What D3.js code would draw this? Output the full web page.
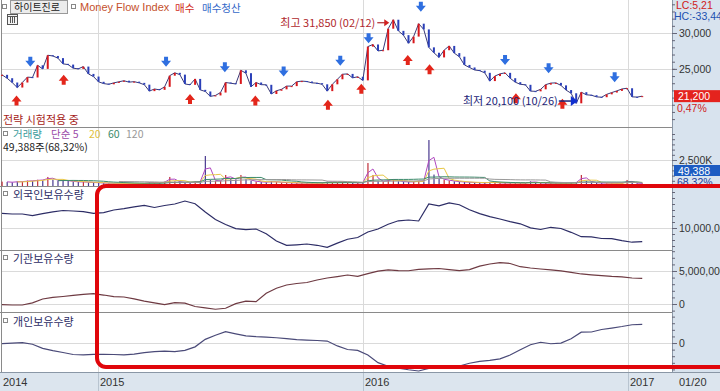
<!DOCTYPE html>
<html>
<head>
<meta charset="utf-8">
<script src="https://cdn.jsdelivr.net/npm/d3@7"></script>
<style>
body { margin: 0; background: #fff; }
svg { display: block; }
text { font-family: "Noto Sans CJK KR", sans-serif; }
.num { font-family: "Liberation Sans", Arial, sans-serif; }
</style>
</head>
<body>
<svg width="720" height="391"></svg>
<script>
// weekly closes (won), first week ending 2014-08-22, last 2017-01-20
const firstWeek = new Date(2014, 7, 22);
const closes = [
  24170, 23700, 23100, 22400, 23100, 23850, 23800, 25500, 25000, 26900,
  26800, 26500, 25700, 25600, 25100, 25000, 25320, 24300, 23930, 23200,
  22950, 22850, 23050, 23200, 23350, 23150, 23220, 23050, 22800, 21900,
  22200, 22080, 22500, 24050, 24450, 24200, 22900, 22780, 23600, 22080,
  21850, 21170, 21300, 21700, 23100, 23000, 22900, 24800, 24400, 22500,
  23100, 22800, 22780, 21500, 21950, 22150, 22600, 22600, 23200, 23300,
  23240, 23050, 23010, 22850, 21900, 22850, 23550, 24250, 24300, 23750,
  23900, 23400, 28100, 28400, 27500, 27600, 30600, 31850, 30300, 29700,
  28570, 29500, 31300, 30500, 28000, 27250, 26600, 27600, 28200, 27200,
  26700, 25550, 25200, 24850, 24750, 24450, 23300, 24000, 24300, 24450,
  23700, 23150, 22850, 22780, 21900, 21870, 22150, 22800, 23020, 23050,
  22700, 22050, 21600, 20200, 21750, 21390, 21330, 21100, 21050, 21450,
  21700, 21930, 22200, 22300, 21100, 21070, 21200
];

// weekly volume, thousand shares
const volumes = [
  420, 380, 350, 450, 400, 520, 480, 600, 550, 870,
  620, 500, 560, 480, 420, 380, 400, 350, 330, 300,
  280, 260, 250, 240, 270, 250, 240, 230, 260, 350,
  280, 300, 420, 870, 450, 380, 320, 350, 420, 380,
  2885, 600, 480, 520, 1060, 700, 620, 1060, 650, 500,
  420, 380, 360, 450, 380, 340, 320, 300, 290, 280,
  270, 260, 270, 280, 420, 350, 380, 400, 350, 320,
  300, 330, 2210, 1060, 500, 420, 600, 650, 450, 400,
  380, 420, 500, 450, 4420, 1100, 700, 600, 520, 450,
  400, 380, 350, 330, 320, 300, 380, 320, 300, 280,
  300, 290, 280, 270, 450, 320, 300, 290, 280, 270,
  260, 280, 300, 350, 1060, 500, 350, 300, 280, 270,
  260, 250, 260, 580, 300, 260, 250
];

// holdings, million shares, every two weeks from 2014-08-22
const foreignHold = [
  12.43, 12.33, 12.33, 12.08, 12.40, 12.70, 12.92, 12.83, 12.72, 12.45,
  12.57, 13.00, 13.22, 13.53, 13.77, 13.42, 13.75, 14.00, 14.50, 14.05,
  12.67, 11.40, 10.58, 9.90, 9.73, 9.83, 9.05, 7.83, 7.10, 7.20,
  7.33, 7.12, 6.77, 7.48, 8.12, 8.42, 9.33, 9.83, 10.63, 11.20,
  11.33, 11.17, 14.00, 13.70, 14.20, 13.87, 13.05, 12.40, 11.90, 11.50,
  11.05, 10.70, 10.03, 9.75, 10.12, 9.92, 9.28, 8.55, 8.52, 8.25,
  8.23, 7.90, 7.63, 7.72
];
const instHold = [
  -0.08, -0.15, -0.15, 0.17, 0.76, 1.00, 1.14, 1.30, 1.47, 1.56,
  1.36, 1.12, 1.06, 0.79, 0.45, 0.17, -0.09, 0.20, 0.12, -0.38,
  -0.58, -0.79, -0.64, 0.05, 0.44, 0.36, 1.62, 2.39, 2.88, 3.11,
  3.26, 3.64, 3.94, 4.15, 4.39, 4.18, 4.59, 4.97, 5.18, 5.06,
  5.04, 5.24, 5.33, 5.38, 5.21, 5.06, 5.20, 5.73, 6.06, 6.27,
  6.14, 5.65, 5.45, 5.30, 5.18, 5.01, 4.79, 4.55, 4.41, 4.30,
  4.18, 4.11, 3.94, 3.89
];
const indivHold = [
  -0.09, 0.00, 0.06, -0.18, -0.80, -1.14, -1.44, -1.74, -1.79, -1.71,
  -1.71, -1.74, -1.80, -1.67, -1.45, -1.30, -1.24, -1.30, -1.11, -0.58,
  0.56, 1.18, 1.71, 1.39, 1.09, 0.97, 0.89, 0.80, 0.67, 0.53,
  0.45, 0.38, 0.30, -0.44, -0.98, -1.11, -1.82, -2.97, -3.52, -3.79,
  -4.05, -4.24, -3.85, -3.70, -3.59, -3.48, -3.06, -2.77, -2.64, -2.39,
  -1.82, -1.02, -0.26, 0.12, -0.11, -0.02, 0.64, 1.64, 1.67, 2.05,
  2.27, 2.50, 2.77, 2.83
];

// Money Flow Index signals: [date, price level of arrow]
const sellSignals = [
  ["2014-09-30", 26010], ["2015-04-05", 26010], ["2015-06-25", 25240],
  ["2015-09-14", 24620], ["2015-12-01", 26150], ["2016-01-09", 29260],
  ["2016-03-21", 33650], ["2016-07-15", 26250], ["2016-09-13", 25100],
  ["2016-12-13", 23850]
];
const buySignals = [
  ["2014-09-11", 20600], ["2014-11-15", 23470], ["2015-05-08", 20790],
  ["2015-08-06", 20600], ["2015-11-14", 20000], ["2015-12-30", 22220],
  ["2016-03-03", 26250], ["2016-04-02", 24960], ["2016-07-30", 20900],
  ["2016-10-02", 20140]
];

const yearTicks = ["2015-01-01", "2016-01-01", "2017-01-01"];
const hi = { date: "2016-02-12", value: 31850 };
const lo = { date: "2016-10-26", value: 20100 };

const parse = d3.timeParse("%Y-%m-%d");
const svg = d3.select("svg");
const left = 2, right = 672;

const x = d3.scaleTime()
  .domain([new Date(2014, 7, 22), new Date(2017, 2, 2)])
  .range([left, right]);

const yPrice = d3.scaleLinear().domain([16900, 34600]).range([127, 0]);
const yVol = d3.scaleLinear().domain([0, 2500]).range([186, 160]);
const yFor = d3.scaleLinear().domain([6.5, 17]).range([249, 186]);
const yInst = d3.scaleLinear().domain([-1.21, 8.18]).range([312, 250]);
const yInd = d3.scaleLinear().domain([-4.39, 4.55]).range([372, 313]);

const weeks = closes.map((c, i) => d3.timeDay.offset(firstWeek, i * 7));
const fortnights = foreignHold.map((v, i) => d3.timeDay.offset(firstWeek, i * 14));

// grid
const grid = svg.append("g").attr("stroke", "#dadada").attr("stroke-width", 1);
[[yPrice, [30000, 25000, 20000]], [yVol, [2500]], [yFor, [10]], [yInst, [5, 0]], [yInd, [0]]]
  .forEach(([s, vals]) => vals.forEach(v => {
    grid.append("line").attr("x1", left).attr("x2", right)
      .attr("y1", Math.round(s(v)) + 0.5).attr("y2", Math.round(s(v)) + 0.5);
  }));
yearTicks.forEach(d => {
  const xx = Math.round(x(parse(d))) + 0.5;
  grid.append("line").attr("x1", xx).attr("x2", xx).attr("y1", 0).attr("y2", 372);
});

// panel separators
const sep = svg.append("g").attr("stroke", "#8a8a8a");
[127, 186, 250, 312, 372].forEach(y => {
  sep.append("line").attr("x1", 0).attr("x2", right).attr("y1", y + 0.5).attr("y2", y + 0.5);
});
sep.append("line").attr("x1", 1.5).attr("x2", 1.5).attr("y1", 0).attr("y2", 372);

// candles: open = previous close
const candles = closes.map((c, i) => ({ date: weeks[i], open: i ? closes[i - 1] : c, close: c, vol: volumes[i] }));
const upC = "#d8171b", dnC = "#2a3fb8";
svg.append("path").datum(candles)
  .attr("fill", "none").attr("stroke", "#3a3a78").attr("stroke-width", 1)
  .attr("d", d3.line().x(d => x(d.date)).y(d => yPrice(d.close)));
svg.append("g").selectAll("rect").data(candles).join("rect")
  .attr("x", d => x(d.date) - 1)
  .attr("width", 2)
  .attr("y", d => yPrice(Math.max(d.open, d.close)))
  .attr("height", d => Math.max(1, Math.abs(yPrice(d.open) - yPrice(d.close))))
  .attr("fill", d => d.close >= d.open ? upC : dnC);

// volume bars
svg.append("g").selectAll("rect").data(candles).join("rect")
  .attr("x", d => x(d.date) - 0.5)
  .attr("width", 1.2)
  .attr("y", d => yVol(d.vol))
  .attr("height", d => yVol(0) - yVol(d.vol))
  .attr("fill", d => d.close >= d.open ? "#c0303a" : "#4a3a90");

// volume moving averages
const maCols = [[2, "#b048c0"], [4, "#e8c848"], [12, "#3a8a6a"], [24, "#999"]];
maCols.forEach(([n, col]) => {
  const ma = volumes.map((v, i) => i < n - 1 ? null : d3.mean(volumes.slice(i - n + 1, i + 1)));
  svg.append("path")
    .datum(ma.map((m, i) => [weeks[i], m]).filter(d => d[1] != null))
    .attr("fill", "none").attr("stroke", col).attr("stroke-width", 1)
    .attr("d", d3.line().x(d => x(d[0])).y(d => yVol(d[1])));
});

// holding lines
[[foreignHold, yFor, "#2d2d66"], [instHold, yInst, "#6e3a42"], [indivHold, yInd, "#4a4a78"]]
  .forEach(([vals, s, col]) => {
    svg.append("path")
      .datum(vals.map((v, i) => [fortnights[i], v]))
      .attr("fill", "none").attr("stroke", col).attr("stroke-width", 1.2)
      .attr("d", d3.line().x(d => x(d[0])).y(d => s(d[1])));
  });

// signal arrows
const arrow = (g, cx, cy, dir, col) => {
  const s = dir; // -1 up, 1 down
  g.append("path")
    .attr("d", `M${cx - 2},${cy - 5 * s} h4 v${4 * s} h3 l-5,${6 * s} l-5,${-6 * s} h3 z`)
    .attr("fill", col);
};
const sig = svg.append("g");
sellSignals.forEach(([d, p]) => arrow(sig, x(parse(d)), yPrice(p), 1, "#2f6fe0"));
buySignals.forEach(([d, p]) => arrow(sig, x(parse(d)), yPrice(p), -1, "#e3261b"));

// high / low notes
const hx = x(parse(hi.date)) - 4, hy = yPrice(hi.value) + 3;
svg.append("text").attr("x", hx - 14).attr("y", hy + 4).attr("text-anchor", "end")
  .attr("font-size", 11).attr("fill", "#b0282c").text(`최고 ${d3.format(",")(hi.value)} (02/12)`);
svg.append("line").attr("x1", hx - 12).attr("x2", hx - 4).attr("y1", hy).attr("y2", hy)
  .attr("stroke", "#b0282c").attr("stroke-width", 1.2);
svg.append("path").attr("d", `M${hx},${hy} l-5,-3.5 v7 z`).attr("fill", "#d02020");

const lx = x(parse(lo.date)) - 2, ly = yPrice(lo.value) - 3;
svg.append("text").attr("x", lx - 20).attr("y", ly + 4).attr("text-anchor", "end")
  .attr("font-size", 11).attr("fill", "#1c2478").text(`최저 ${d3.format(",")(lo.value)} (10/26)`);
svg.append("line").attr("x1", lx - 19).attr("x2", lx - 6).attr("y1", ly).attr("y2", ly)
  .attr("stroke", "#1c2478").attr("stroke-width", 1.5);
svg.append("path").attr("d", `M${lx},${ly} l-7,-5 v10 z`).attr("fill", "#1030d0");

// header texts
const box = (bx, by) => svg.append("rect").attr("x", bx + 0.5).attr("y", by + 0.5)
  .attr("width", 4).attr("height", 4).attr("fill", "#fff").attr("stroke", "#888");
box(2, 4);
svg.append("rect").attr("x", 10.5).attr("y", 0.5).attr("width", 57).attr("height", 13)
  .attr("fill", "#ececec").attr("stroke", "#999");
svg.append("text").attr("x", 14).attr("y", 11).attr("font-size", 10).attr("fill", "#222").text("하이트진로");
box(71, 4);
svg.append("text").attr("class", "num").attr("x", 80).attr("y", 11).attr("font-size", 11)
  .attr("fill", "#c4502c").text("Money Flow Index");
svg.append("text").attr("x", 175).attr("y", 11.5).attr("font-size", 10.5).attr("fill", "#d02a20").text("매수");
svg.append("text").attr("x", 202).attr("y", 11.5).attr("font-size", 10.5).attr("fill", "#3468c8").text("매수청산");

// small grid icon
const ic = svg.append("g").attr("stroke", "#555").attr("fill", "none");
ic.append("rect").attr("x", 7.5).attr("y", 14.5).attr("width", 10).attr("height", 10).attr("fill", "#f4f4f4");
[10.5, 12.5, 14.5].forEach(v => ic.append("line").attr("x1", v).attr("x2", v).attr("y1", 17).attr("y2", 23));
ic.append("line").attr("x1", 8).attr("x2", 17).attr("y1", 16.5).attr("y2", 16.5);

svg.append("text").attr("x", 3).attr("y", 124).attr("font-size", 11).attr("fill", "#a51c20").text("전략 시험적용 중");

box(3, 131);
[["거래량", 13, "#3a9c9c"], ["단순 5", 51, "#9a48a8"], ["20", 89, "#e0c040"], ["60", 108, "#3a8a6a"], ["120", 126, "#999"]]
  .forEach(([t, tx, col]) => {
    svg.append("text").attr("x", tx).attr("y", 138).attr("font-size", 10.5).attr("fill", col).text(t);
  });
svg.append("text").attr("x", 3).attr("y", 151).attr("font-size", 10.5).attr("fill", "#222").text("49,388주(68,32%)");

[["외국인보유수량", 199], ["기관보유수량", 263], ["개인보유수량", 326]].forEach(([t, y]) => {
  box(3, y - 8);
  svg.append("text").attr("x", 13).attr("y", y).attr("font-size", 11).attr("fill", "#2d2d66").text(t);
});

// right axis panel
svg.append("rect").attr("x", right).attr("y", 0).attr("width", 720 - right).attr("height", 391).attr("fill", "#d8e3ee");
svg.append("line").attr("x1", right + 0.5).attr("x2", right + 0.5).attr("y1", 0).attr("y2", 391).attr("stroke", "#8a97a6");

const axisAt = (s, major, minor, fmt) => {
  const gm = svg.append("g").attr("transform", `translate(${right},0)`)
    .call(d3.axisRight(s).tickValues(minor).tickSize(3).tickFormat(""));
  const g = svg.append("g").attr("transform", `translate(${right},0)`)
    .call(d3.axisRight(s).tickValues(major).tickSize(5).tickPadding(2).tickFormat(fmt));
  [gm, g].forEach(a => {
    a.select(".domain").remove();
    a.selectAll("line").attr("stroke", "#667");
    a.selectAll("text").attr("class", "num").attr("font-size", 10.5).attr("fill", "#333");
  });
};
const cf = d3.format(",");
axisAt(yPrice, [30000, 25000], d3.range(18000, 34001, 1000), cf);
axisAt(yVol, [2500], d3.range(0, 5001, 500), d => "2,500K");
axisAt(yFor, [10], d3.range(7, 17, 1), d => cf(d * 1e6));
axisAt(yInst, [5, 0], d3.range(-1, 9, 1), d => cf(d * 1e6));
axisAt(yInd, [0], d3.range(-4, 5, 1), d => cf(d * 1e6));

svg.append("text").attr("class", "num").attr("x", 676).attr("y", 9).attr("font-size", 10.5).attr("fill", "#d02020").text("LC:5,21");
svg.append("text").attr("class", "num").attr("x", 674).attr("y", 20).attr("font-size", 10.5).attr("fill", "#2050b0").text("HC:-33,44");

const last = closes[closes.length - 1];
svg.append("rect").attr("x", 674).attr("y", yPrice(last) - 6).attr("width", 46).attr("height", 12).attr("fill", "#e4231e");
svg.append("text").attr("class", "num").attr("x", 678).attr("y", yPrice(last) + 4).attr("font-size", 10.5).attr("fill", "#fff").text(cf(last));
svg.append("text").attr("class", "num").attr("x", 677).attr("y", yPrice(last) + 16).attr("font-size", 10.5).attr("fill", "#d02020").text("0,47%");

svg.append("rect").attr("x", 674).attr("y", 165).attr("width", 46).attr("height", 11).attr("fill", "#1d5cc2");
svg.append("text").attr("class", "num").attr("x", 678).attr("y", 174.5).attr("font-size", 10.5).attr("fill", "#fff").text("49,388");
svg.append("text").attr("class", "num").attr("x", 677).attr("y", 186).attr("font-size", 10.5).attr("fill", "#1d3c9c").text("68,32%");

// bottom date band
svg.append("rect").attr("x", 0).attr("y", 372.5).attr("width", 720).attr("height", 19).attr("fill", "#dce5ee");
svg.append("line").attr("x1", 0).attr("x2", 720).attr("y1", 372.5).attr("y2", 372.5).attr("stroke", "#8a97a6");
svg.append("text").attr("class", "num").attr("x", 3).attr("y", 386).attr("font-size", 11).attr("fill", "#333").text("2014");
yearTicks.forEach(d => {
  const dt = parse(d), xx = Math.round(x(dt));
  svg.append("line").attr("x1", xx + 0.5).attr("x2", xx + 0.5).attr("y1", 373).attr("y2", 391).attr("stroke", "#b8c4d0");
  svg.append("text").attr("class", "num").attr("x", xx + 2).attr("y", 386).attr("font-size", 11).attr("fill", "#333")
    .text(d3.timeFormat("%Y")(dt));
});
svg.append("text").attr("class", "num").attr("x", 679).attr("y", 386).attr("font-size", 11).attr("fill", "#333").text("01/20");

// red highlight frame
svg.append("path")
  .attr("d", "M725,186 H106 A9,9 0 0 0 97,195 V358 A9,9 0 0 0 106,367 H725")
  .attr("fill", "none").attr("stroke", "#e0060b").attr("stroke-width", 4);
</script>
</body>
</html>
